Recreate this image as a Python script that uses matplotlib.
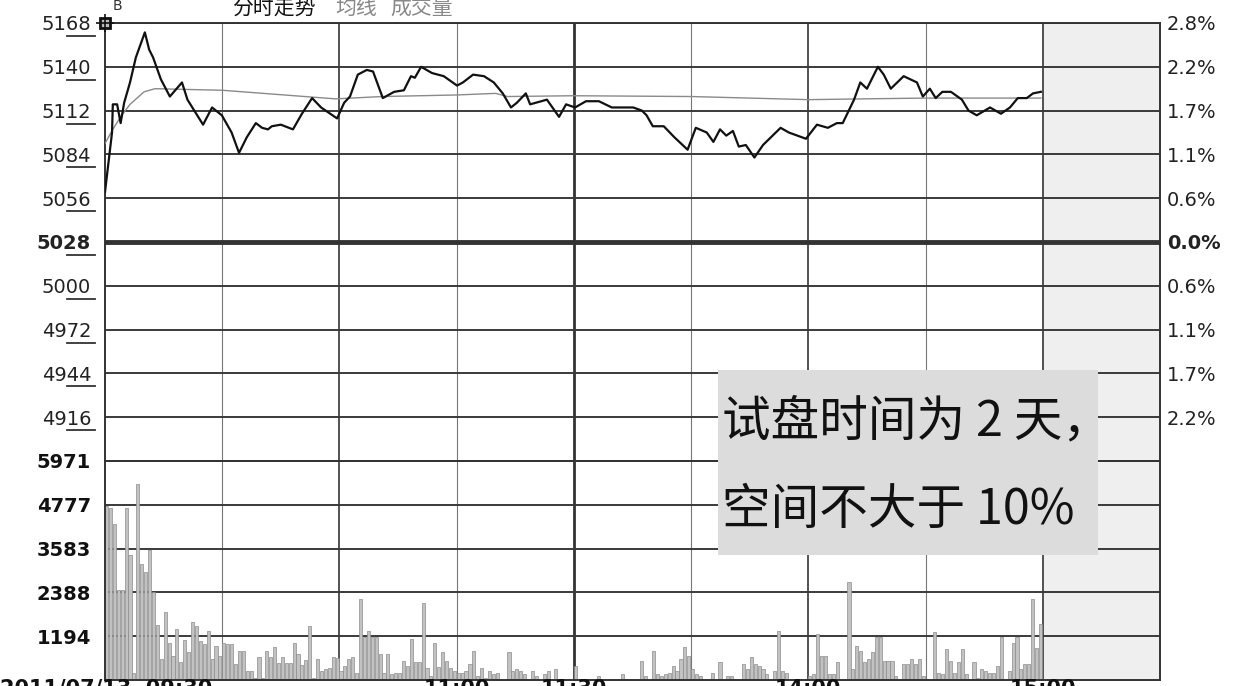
import matplotlib
matplotlib.use('Agg')
import matplotlib.pyplot as plt
import matplotlib.transforms as mtransforms
from matplotlib.patches import Rectangle
from matplotlib.lines import Line2D

W, H = 1238, 686

# left / right axis of the price panel
price_levels = [5168, 5140, 5112, 5084, 5056, 5028, 5000, 4972, 4944, 4916, 4888]
price_labels = ['5168', '5140', '5112', '5084', '5056', '5028', '5000', '4972', '4944', '4916', '']
pct_labels = ['2.8%', '2.2%', '1.7%', '1.1%', '0.6%', '0.0%', '0.6%', '1.1%', '1.7%', '2.2%', '']
prev_close = 5028

# volume panel axis
vol_levels = [0, 1194, 2388, 3583, 4777, 5971]
vol_labels = ['', '1194', '2388', '3583', '4777', '5971']

# time axis (minutes after 09:30, lunch break removed)
time_ticks = [90, 120, 180, 240]
time_labels = ['11:00', '11:30', '14:00', '15:00']
date_label = '2011/07/13  09:30'

# price line (minute, price)
price_t = [0, 1.8, 2.0, 3.1, 4.0, 4.9, 6.4, 7.9, 10.2, 11.3, 12.3, 14.3, 16.6, 19.7, 21.1,
           25.1, 27.4, 29.9, 32.4, 34.3, 36.3, 38.6, 40.2, 41.7, 42.7, 45.0, 48.1, 50.4,
           53.0, 55.3, 59.4, 61.2, 62.7, 64.7, 67.0, 68.6, 71.1, 74.0, 76.5, 78.3, 79.3,
           80.9, 83.7, 86.7, 90.1, 91.6, 94.2, 97.0, 99.5, 101.8, 103.9, 105.4, 107.7,
           108.8, 113.1, 116.2, 118.0, 120.3, 123.1, 126.4, 129.7, 135.2, 137.4, 138.6,
           140.2, 143.0, 145.7, 149.1, 151.2, 154.0, 155.7, 157.4, 159.0, 160.7, 162.2,
           164.0, 166.2, 168.4, 172.9, 175.0, 179.4, 182.2, 185.0, 187.3, 188.8, 191.7,
           193.3, 195.0, 197.8, 199.3, 201.1, 204.4, 207.8, 209.3, 211.1, 212.6, 214.3,
           216.5, 219.3, 221.0, 223.1, 226.5, 229.3, 231.6, 233.6, 235.9, 237.5, 239.5]
price_v = [5060, 5098, 5116, 5116, 5104, 5117, 5130, 5146, 5162, 5151, 5146, 5132, 5121, 5130, 5119,
           5103, 5114, 5109, 5098, 5085, 5095, 5104, 5101, 5100, 5102, 5103, 5100, 5110,
           5120, 5114, 5107, 5117, 5121, 5135, 5138, 5137, 5120, 5124, 5125, 5134, 5133,
           5140, 5136, 5134, 5128, 5130, 5135, 5134, 5130, 5123, 5114, 5117, 5123,
           5116, 5119, 5108, 5116, 5114, 5118, 5118, 5114, 5114, 5112, 5109,
           5102, 5102, 5095, 5087, 5101, 5098, 5092, 5100, 5096, 5099, 5089,
           5090, 5082, 5090, 5101, 5098, 5094, 5103, 5101, 5104, 5104, 5119,
           5130, 5126, 5140, 5135, 5126, 5134, 5130, 5121, 5126, 5120, 5124,
           5124, 5119, 5112, 5109, 5114, 5110, 5114, 5120, 5120, 5123, 5124]

# average price line
avg_t = [0, 2, 4, 6.4, 10, 12.8, 30, 59, 71, 90, 100, 103, 120, 150, 180, 194, 210, 239.5]
avg_v = [5091, 5100, 5108, 5116, 5124, 5126, 5125, 5119.5, 5121, 5122, 5123, 5121, 5121.5,
         5121, 5119, 5119.5, 5120, 5120]

# per-minute volume
volume = [
    4750, 4700, 4250, 2450, 2450, 4700, 3400, 200, 5350, 3150, 2950, 3550, 2400, 1500, 580, 1850, 1000, 660, 1400, 480,
    1100, 760, 1570, 1480, 1050, 980, 1340, 580, 940, 660, 1020, 980, 980, 430, 800, 800, 250, 250, 50, 620,
    50, 800, 620, 890, 450, 620, 450, 450, 1020, 700, 400, 550, 1460, 50, 580, 250, 300, 330, 620, 600,
    250, 390, 570, 620, 200, 2200, 1160, 1340, 1160, 1160, 700, 200, 700, 150, 200, 200, 520, 390, 1110, 480,
    480, 2100, 340, 100, 1020, 350, 750, 530, 340, 250, 200, 200, 250, 430, 800, 100, 340, 50, 250, 150,
    200, 0, 0, 770, 250, 300, 250, 150, 0, 250, 100, 0, 150, 250, 0, 300, 0, 0, 0, 0,
    390, 0, 0, 0, 0, 0, 100, 0, 0, 0, 0, 0, 150, 0, 0, 0, 0, 520, 100, 0,
    800, 150, 100, 150, 200, 390, 250, 570, 890, 660, 300, 150, 100, 0, 0, 200, 0, 480, 0, 100,
    100, 0, 0, 430, 300, 615, 430, 390, 300, 150, 0, 250, 1340, 250, 200, 0, 0, 0, 0, 0,
    100, 150, 1250, 660, 660, 150, 150, 480, 0, 0, 2660, 300, 930, 800, 480, 570, 750, 1160, 1160, 520,
    520, 520, 100, 0, 430, 430, 560, 430, 560, 100, 0, 0, 1300, 200, 150, 840, 520, 200, 480, 840,
    150, 0, 480, 50, 300, 250, 200, 200, 390, 1160, 0, 250, 1020, 1160, 300, 430, 430, 2200, 880, 1520,
]

plt.rcParams['font.family'] = ['DejaVu Sans', 'Noto Sans CJK SC']
cjk = ['Noto Sans CJK SC', 'DejaVu Sans']

fig = plt.figure(figsize=(W / 100, H / 100), dpi=100)
fig.patch.set_facecolor('white')

left, right = 105 / W, 1160 / W
ax = fig.add_axes([left, (H - 461) / H, right - left, 438 / H])
ax2 = fig.add_axes([left, (H - 680) / H, right - left, 219 / H])

grid_c = '#3a3a3a'
for a in (ax, ax2):
    a.set_xlim(0, 270)
    a.axvspan(240, 270, color='#efefef', zorder=0, lw=0)
    for m in range(30, 241, 30):
        if m == 120:
            a.axvline(m, color='#333333', lw=2.0, zorder=1)
        elif m % 60 == 0:
            a.axvline(m, color='#444444', lw=1.3, zorder=1)
        else:
            a.axvline(m, color='#777777', lw=0.8, zorder=1)
    a.set_xticks([])
    for s in a.spines.values():
        s.set_color('#333333')
        s.set_linewidth(1.4)

# price panel
ax.set_ylim(price_levels[-1], price_levels[0])
for lvl in price_levels:
    if lvl == prev_close:
        ax.axhline(lvl, color='#333333', lw=3.5, zorder=1)
    else:
        ax.axhline(lvl, color=grid_c, lw=1.4, zorder=1)
ax.plot(avg_t, avg_v, color='#8a8a8a', lw=1.0, zorder=3)
ax.plot(price_t, price_v, color='#111111', lw=1.6, zorder=4)
ax.set_yticks(price_levels)
ax.set_yticklabels(price_labels, fontsize=14, color='#222222')
ax.tick_params(axis='y', length=0, pad=10)
ax.get_yticklabels()[price_levels.index(prev_close)].set_fontweight('bold')

axr = ax.twinx()
axr.set_ylim(ax.get_ylim())
axr.set_yticks(price_levels)
axr.set_yticklabels(pct_labels, fontsize=14, color='#222222')
axr.tick_params(axis='y', length=0, pad=5)
axr.get_yticklabels()[price_levels.index(prev_close)].set_fontweight('bold')
for s in axr.spines.values():
    s.set_visible(False)

# underline the last two digits of the price labels
ul = mtransforms.blended_transform_factory(fig.transFigure, ax.transData) + \
    mtransforms.ScaledTranslation(0, -0.13, fig.dpi_scale_trans)
for lvl, lab in zip(price_levels, price_labels):
    if lab:
        fig.add_artist(Line2D([67 / W, 95 / W], [lvl, lvl], transform=ul,
                              color='#333333', lw=1.3))

# cursor icon in the corner
ax.plot([0], [1], transform=ax.transAxes, marker='s', ms=7, mfc='#bbbbbb', mec='#111111',
        mew=2, clip_on=False, zorder=6)
ax.plot([0], [1], transform=ax.transAxes, marker='+', ms=13, mec='#111111', mew=1.2,
        clip_on=False, zorder=6)

# volume panel
ax2.set_ylim(0, vol_levels[-1])
for lvl in vol_levels[1:]:
    ax2.axhline(lvl, color=grid_c, lw=1.4, zorder=1)
ax2.bar(range(len(volume)), volume, width=0.8, align='edge', color='#c2c2c2',
        edgecolor='#8c8c8c', lw=0.5, zorder=2)
ax2.set_yticks(vol_levels)
ax2.set_yticklabels(vol_labels, fontsize=14, fontweight='bold', color='#111111')
ax2.tick_params(axis='y', length=0, pad=10)

# time labels (cut by the bottom edge, as in the source screenshot)
tb = mtransforms.blended_transform_factory(ax2.transData, fig.transFigure)
for t, lab in zip(time_ticks, time_labels):
    ax2.text(t, (H - 679) / H, lab, transform=tb, ha='center', va='top', fontsize=15,
             fontweight='bold', color='#111111', clip_on=False)
fig.text(212 / W, (H - 679) / H, date_label, ha='right', va='top', fontsize=15,
         fontweight='bold', color='#111111')

# header
fig.text(232 / W, (H - 8) / H, '分时走势', family=cjk, fontsize=15, color='#111111', va='center')
fig.text(335 / W, (H - 8) / H, '均线', family=cjk, fontsize=15, color='#888888', va='center')
fig.text(390 / W, (H - 8) / H, '成交量', family=cjk, fontsize=15, color='#888888', va='center')
fig.text(113 / W, (H - 6) / H, 'B', fontsize=10, color='#333333', va='center')

# annotation box
fig.add_artist(Rectangle((718 / W, (H - 555) / H), 380 / W, 185 / H, transform=fig.transFigure,
                         facecolor='#dcdcdc', edgecolor='none', zorder=5))
fig.text(722 / W, (H - 422) / H, '试盘时间为 2 天，', family=cjk, fontsize=35, weight='light',
         color='#111111', ha='left', va='center', zorder=6)
fig.text(722 / W, (H - 510) / H, '空间不大于 10%', family=cjk, fontsize=35, weight='light',
         color='#111111', ha='left', va='center', zorder=6)

fig.savefig('out.png', dpi=100)
